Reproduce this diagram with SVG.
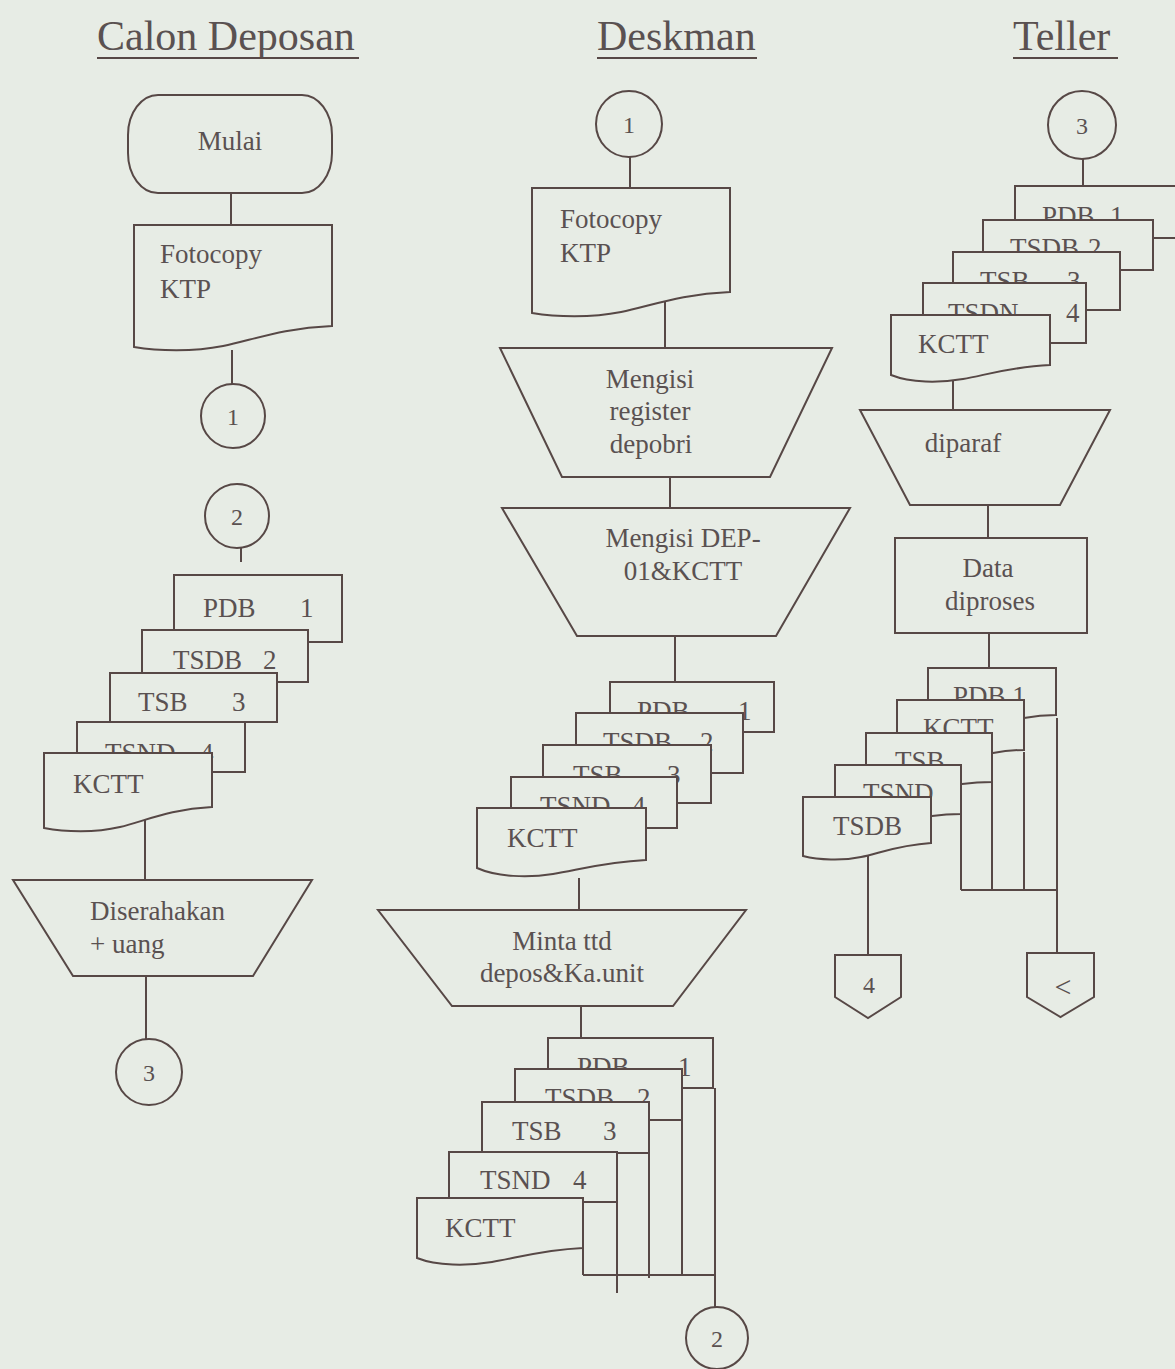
<svg xmlns="http://www.w3.org/2000/svg" width="1175" height="1369" viewBox="0 0 1175 1369">
<style>
.bg{fill:#e7ece5}
.s{fill:#e7ece5;stroke:#574846;stroke-width:2;stroke-linejoin:miter}
.ln{fill:none;stroke:#574846;stroke-width:2}
.t{font-family:"Liberation Serif","Times New Roman",serif;font-size:27px;fill:#5a5151}
.c{text-anchor:middle}
.n{font-family:"Liberation Serif","Times New Roman",serif;font-size:24px;fill:#5a5151;text-anchor:middle}
.h{font-family:"Liberation Serif","Times New Roman",serif;font-size:42px;fill:#5a5151}
</style>
<rect class="bg" x="0" y="0" width="1175" height="1369"/>

<g id="headers">
<text class="h" x="97" y="50">Calon Deposan</text>
<line class="ln" x1="97" y1="58" x2="359" y2="58"/>
<text class="h" x="597" y="50">Deskman</text>
<line class="ln" x1="597" y1="58" x2="757" y2="58"/>
<text class="h" x="1013" y="50">Teller</text>
<line class="ln" x1="1013" y1="58" x2="1118" y2="58"/>
</g>

<g id="connectors">
<line class="ln" x1="231" y1="193" x2="231" y2="225"/>
<line class="ln" x1="232" y1="350" x2="232" y2="384"/>
<line class="ln" x1="241" y1="548" x2="241" y2="562"/>
<line class="ln" x1="145" y1="815" x2="145" y2="880"/>
<line class="ln" x1="146" y1="976" x2="146" y2="1039"/>
<line class="ln" x1="630" y1="157" x2="630" y2="188"/>
<line class="ln" x1="665" y1="285" x2="665" y2="348"/>
<line class="ln" x1="670" y1="477" x2="670" y2="508"/>
<line class="ln" x1="675" y1="636" x2="675" y2="682"/>
<line class="ln" x1="579" y1="878" x2="579" y2="910"/>
<line class="ln" x1="581" y1="1000" x2="581" y2="1038"/>
<line class="ln" x1="715" y1="1088" x2="715" y2="1307"/>
<line class="ln" x1="682" y1="1120" x2="682" y2="1275"/>
<line class="ln" x1="649" y1="1153" x2="649" y2="1278"/>
<line class="ln" x1="617" y1="1202" x2="617" y2="1293"/>
<line class="ln" x1="583" y1="1248" x2="583" y2="1275"/>
<line class="ln" x1="583" y1="1275" x2="715" y2="1275"/>
<line class="ln" x1="1083" y1="159" x2="1083" y2="186"/>
<line class="ln" x1="953" y1="375" x2="953" y2="410"/>
<line class="ln" x1="988" y1="505" x2="988" y2="538"/>
<line class="ln" x1="989" y1="633" x2="989" y2="668"/>
<line class="ln" x1="961" y1="815" x2="961" y2="890"/>
<line class="ln" x1="992" y1="783" x2="992" y2="890"/>
<line class="ln" x1="1024" y1="752" x2="1024" y2="890"/>
<line class="ln" x1="1057" y1="718" x2="1057" y2="953"/>
<line class="ln" x1="961" y1="890" x2="1057" y2="890"/>
<line class="ln" x1="868" y1="852" x2="868" y2="955"/>
</g>

<!-- Calon Deposan -->
<g id="mulai">
<rect class="s" x="128" y="95" width="204" height="98" rx="30" ry="40"/>
<text class="t c" x="230" y="150">Mulai</text>
</g>
<g id="cd-fotocopy">
<path class="s" d="M134,225 h198 v101 c-49.5,2 -79.2,14 -108.9,20 c-29.7,6 -65.3,5 -89.1,1 z"/>
<text class="t" x="160" y="263">Fotocopy</text>
<text class="t" x="160" y="298">KTP</text>
</g>
<g id="cd-conn1">
<circle class="s" cx="233" cy="416" r="32"/>
<text class="n" x="233" y="425">1</text>
</g>
<g id="cd-conn2">
<circle class="s" cx="237" cy="516" r="32"/>
<text class="n" x="237" y="525">2</text>
</g>
<g id="cd-docs">
<rect class="s" x="174" y="575" width="168" height="67"/>
<text class="t" x="203" y="617">PDB</text><text class="t" x="300" y="617">1</text>
<rect class="s" x="142" y="630" width="166" height="52"/>
<text class="t" x="173" y="669">TSDB</text><text class="t" x="263" y="669">2</text>
<rect class="s" x="110" y="673" width="167" height="49"/>
<text class="t" x="138" y="711">TSB</text><text class="t" x="232" y="711">3</text>
<rect class="s" x="77" y="722" width="168" height="50"/>
<text class="t" x="105" y="762">TSND</text><text class="t" x="200" y="762">4</text>
<path class="s" d="M44,753 h168 v54 c-42,2 -67,14 -92,20 c-25,6 -55,5 -76,1 z"/>
<text class="t" x="73" y="793">KCTT</text>
</g>
<g id="cd-diserahkan">
<polygon class="s" points="13,880 312,880 253,976 73,976"/>
<text class="t" x="90" y="920">Diserahakan</text>
<text class="t" x="90" y="953">+ uang</text>
</g>
<g id="cd-conn3">
<circle class="s" cx="149" cy="1072" r="33"/>
<text class="n" x="149" y="1081">3</text>
</g>

<!-- Deskman -->
<g id="dk-conn1">
<circle class="s" cx="629" cy="124" r="33"/>
<text class="n" x="629" y="133">1</text>
</g>
<g id="dk-fotocopy">
<path class="s" d="M532,188 h198 v104 c-49.5,2 -79.2,14 -108.9,20 c-29.7,6 -65.3,5 -89.1,1 z"/>
<text class="t" x="560" y="228">Fotocopy</text>
<text class="t" x="560" y="262">KTP</text>
</g>
<g id="dk-register">
<polygon class="s" points="500,348 832,348 770,477 562,477"/>
<text class="t c" x="650" y="388">Mengisi</text>
<text class="t c" x="650" y="420">register</text>
<text class="t c" x="651" y="453">depobri</text>
</g>
<g id="dk-dep01">
<polygon class="s" points="502,508 850,508 776,636 577,636"/>
<text class="t c" x="683" y="547">Mengisi DEP-</text>
<text class="t c" x="683" y="580">01&amp;KCTT</text>
</g>
<g id="dk-docs1">
<rect class="s" x="610" y="682" width="164" height="50"/>
<text class="t" x="637" y="720">PDB</text><text class="t" x="738" y="720">1</text>
<rect class="s" x="576" y="713" width="167" height="60"/>
<text class="t" x="603" y="751">TSDB</text><text class="t" x="700" y="751">2</text>
<rect class="s" x="543" y="745" width="168" height="58"/>
<text class="t" x="573" y="784">TSB</text><text class="t" x="667" y="784">3</text>
<rect class="s" x="511" y="777" width="166" height="51"/>
<text class="t" x="540" y="815">TSND</text><text class="t" x="632" y="815">4</text>
<path class="s" d="M477,808 h169 v52 c-42,2 -68,10 -93,14 c-25,4 -56,3 -76,-6 z"/>
<text class="t" x="507" y="847">KCTT</text>
</g>
<g id="dk-minta">
<polygon class="s" points="378,910 746,910 673,1006 452,1006"/>
<text class="t c" x="562" y="950">Minta ttd</text>
<text class="t c" x="562" y="982">depos&amp;Ka.unit</text>
</g>
<g id="dk-docs2">
<rect class="s" x="548" y="1038" width="165" height="50"/>
<text class="t" x="577" y="1076">PDB</text><text class="t" x="678" y="1076">1</text>
<rect class="s" x="515" y="1069" width="167" height="51"/>
<text class="t" x="545" y="1107">TSDB</text><text class="t" x="637" y="1107">2</text>
<rect class="s" x="482" y="1102" width="167" height="51"/>
<text class="t" x="512" y="1140">TSB</text><text class="t" x="603" y="1140">3</text>
<rect class="s" x="449" y="1152" width="168" height="50"/>
<text class="t" x="480" y="1189">TSND</text><text class="t" x="573" y="1189">4</text>
<path class="s" d="M417,1198 h166 v50 c-42,2 -66,10 -91,14 c-25,4 -55,4 -75,-4 z"/>
<text class="t" x="445" y="1237">KCTT</text>
</g>
<g id="dk-conn2">
<circle class="s" cx="717" cy="1338" r="31"/>
<text class="n" x="717" y="1347">2</text>
</g>

<!-- Teller -->
<g id="tl-conn3">
<circle class="s" cx="1082" cy="125" r="34"/>
<text class="n" x="1082" y="134">3</text>
</g>
<g id="tl-docs1">
<rect class="s" x="1015" y="186" width="165" height="52"/>
<text class="t" x="1042" y="225">PDB</text><text class="t" x="1110" y="225">1</text>
<rect class="s" x="983" y="220" width="170" height="50"/>
<text class="t" x="1010" y="257">TSDB</text><text class="t" x="1088" y="257">2</text>
<rect class="s" x="953" y="252" width="167" height="58"/>
<text class="t" x="980" y="290">TSB</text><text class="t" x="1067" y="290">3</text>
<rect class="s" x="923" y="283" width="163" height="60"/>
<text class="t" x="948" y="322">TSDN</text><text class="t" x="1066" y="322">4</text>
<path class="s" d="M891,315 h159 v50 c-40,2 -64,10 -87,14 c-24,4 -52,4 -72,-4 z"/>
<text class="t" x="918" y="353">KCTT</text>
</g>
<g id="tl-diparaf">
<polygon class="s" points="860,410 1110,410 1060,505 910,505"/>
<text class="t c" x="963" y="452">diparaf</text>
</g>
<g id="tl-proses">
<rect class="s" x="895" y="538" width="192" height="95"/>
<text class="t c" x="988" y="577">Data</text>
<text class="t c" x="990" y="610">diproses</text>
</g>
<g id="tl-docs2">
<path class="s" d="M928,668 h128 v47 q-16,0 -32,3 H928 z"/>
<text class="t" x="953" y="705">PDB 1</text>
<path class="s" d="M897,700 h127 v50 q-16,0 -31,3 H897 z"/>
<text class="t" x="923" y="737">KCTT</text>
<path class="s" d="M866,733 h126 v49 q-15,0 -30,2 H866 z"/>
<text class="t" x="895" y="770">TSB</text>
<path class="s" d="M835,765 h126 v49 q-15,0 -29,2 H835 z"/>
<text class="t" x="863" y="802">TSND</text>
<path class="s" d="M803,797 h128 v46 c-32,2 -51,10 -70,14 c-19,4 -42,3 -58,-1 z"/>
<text class="t" x="833" y="835">TSDB</text>
</g>
<g id="tl-off4">
<path class="s" d="M835,955 h66 v42 l-33,21 l-33,-21 z"/>
<text class="n" x="869" y="993">4</text>
</g>
<g id="tl-off5">
<path class="s" d="M1027,953 h67 v44 l-33.5,20 l-33.5,-20 z"/>
<text class="n" x="1063" y="997" style="font-size:30px">&lt;</text>
</g>
</svg>
